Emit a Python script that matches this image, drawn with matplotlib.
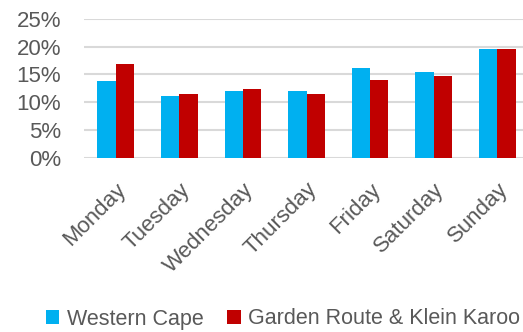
import numpy as np
import matplotlib
matplotlib.use("Agg")
import matplotlib.pyplot as plt
from matplotlib.ticker import FuncFormatter

# Share of trips by day of week (%)
days = ['Monday', 'Tuesday', 'Wednesday', 'Thursday', 'Friday', 'Saturday', 'Sunday']
western_cape = [13.9, 11.2, 12.1, 12.1, 16.1, 15.5, 19.6]
garden_route = [16.9, 11.4, 12.4, 11.5, 14.0, 14.7, 19.6]
series_names = ['Western Cape', 'Garden Route & Klein Karoo']
y_ticks = [0, 5, 10, 15, 20, 25]

BLUE = '#00B0F0'
RED = '#C00000'
TEXT = '#595959'
GRID = '#D9D9D9'

plt.rcParams['font.family'] = ['Liberation Sans', 'DejaVu Sans']

fig = plt.figure(figsize=(5.23, 3.32), dpi=100)
ax = fig.add_axes([84 / 523, 1 - 158 / 332, 445 / 523, (158 - 18.7) / 332])

x = np.arange(len(days))
w = 0.288
ax.bar(x - w / 2, western_cape, w, color=BLUE, label=series_names[0], zorder=3)
ax.bar(x + w / 2, garden_route, w, color=RED, label=series_names[1], zorder=3)

ax.set_xlim(-0.5, len(days) - 0.5)
ax.set_ylim(0, 25)
ax.set_yticks(y_ticks)
ax.yaxis.set_major_formatter(FuncFormatter(lambda v, p: f'{v:.0f}%'))
ax.grid(axis='y', color=GRID, linewidth=1.5, zorder=0)
ax.set_axisbelow(True)
for s in ax.spines.values():
    s.set_visible(False)
ax.tick_params(axis='both', length=0, colors=TEXT)
ax.tick_params(axis='y', labelsize=16, pad=16.5)
ax.tick_params(axis='x', labelsize=16, pad=15)

ax.set_xticks(x)
ax.set_xticklabels(days, rotation=45, ha='right', rotation_mode='anchor')

fig.legend(loc='center', bbox_to_anchor=(283 / 523, 1 - 319 / 332), ncol=2,
           frameon=False, fontsize=15.5, labelcolor=TEXT, handlelength=0.62,
           handleheight=0.62, handletextpad=0.35, columnspacing=1.1,
           borderaxespad=0)

fig.savefig('out.png', dpi=100)
